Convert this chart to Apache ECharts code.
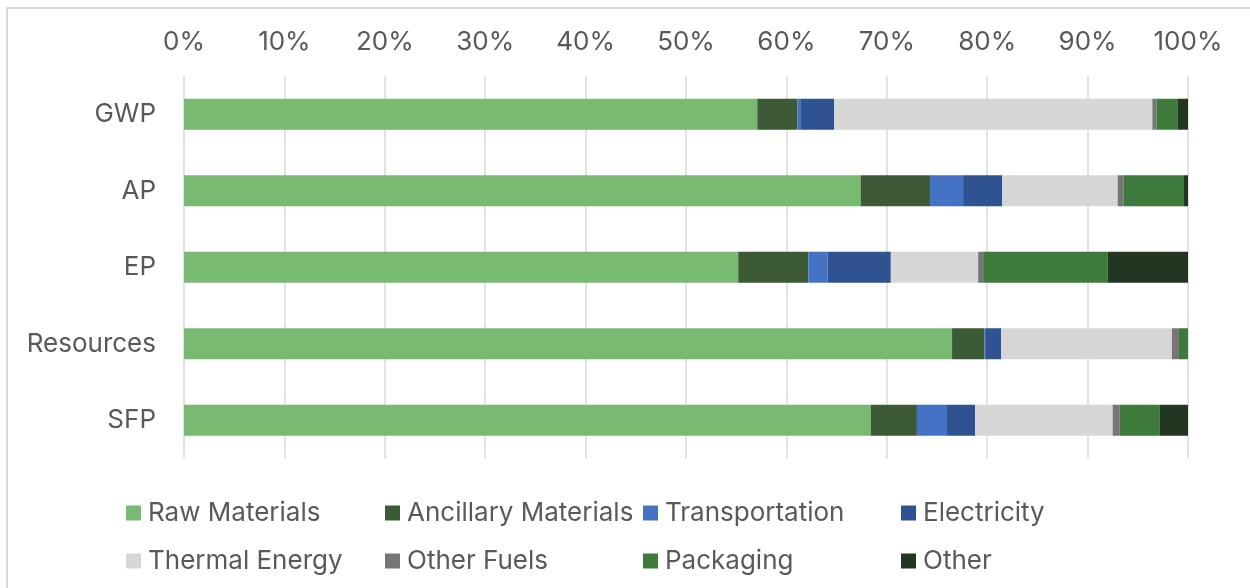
<!DOCTYPE html>
<html><head><meta charset="utf-8">
<script src="https://cdn.jsdelivr.net/npm/echarts@6/dist/echarts.min.js"></script>
<style>html,body{margin:0;padding:0;background:#fff}#c{width:1250px;height:588px}</style>
</head><body><div id="c"></div>
<script>
const categories = ["GWP", "AP", "EP", "Resources", "SFP"];
const seriesNames = ["Raw Materials", "Ancillary Materials", "Transportation", "Electricity", "Thermal Energy", "Other Fuels", "Packaging", "Other"];
const rawMaterials = [57.1, 67.4, 55.2, 76.5, 68.4];
const ancillaryMaterials = [4.0, 6.9, 7.0, 3.2, 4.6];
const transportation = [0.35, 3.3, 1.9, 0.1, 3.0];
const electricity = [3.3, 3.9, 6.3, 1.6, 2.8];
const thermalEnergy = [31.7, 11.5, 8.7, 17.0, 13.7];
const otherFuels = [0.4, 0.6, 0.5, 0.7, 0.7];
const packaging = [2.1, 6.0, 12.4, 0.9, 4.0];
const other = [1.05, 0.4, 8.0, 0.0, 2.8];
const tickLabels = ["0%", "10%", "20%", "30%", "40%", "50%", "60%", "70%", "80%", "90%", "100%"];
const colors = ["#78BA72", "#3C5A36", "#4472C4", "#2F5290", "#D6D6D6", "#767676", "#3E7A3C", "#233622"];

const values = [rawMaterials, ancillaryMaterials, transportation, electricity, thermalEnergy, otherFuels, packaging, other];
const FONT = "Inter";
const FS = 26;
const legendPos = [[126, 500], [385, 500], [643, 500], [901, 500], [126, 548], [385, 548], [643, 548], [901, 548]];

const chart = echarts.init(document.getElementById('c'), null, {renderer: 'canvas'});
chart.setOption({
  animation: false,
  color: colors,
  graphic: [{type: 'rect', shape: {x: 7, y: 8, width: 1300, height: 700}, style: {fill: 'none', stroke: '#D9D9D9', lineWidth: 2}, silent: true}],
  grid: {left: 184, right: 62, top: 76, bottom: 129.5, containLabel: false},
  xAxis: {
    type: 'value', position: 'top', min: 0, max: 100, interval: 10,
    axisLine: {show: false}, axisTick: {show: false},
    splitLine: {show: true, lineStyle: {color: '#D9D9D9', width: 1.5}},
    axisLabel: {margin: 21, color: '#595959', fontFamily: FONT, fontSize: FS,
      formatter: function (v) { return tickLabels[Math.round(v / 10)]; }}
  },
  yAxis: {
    type: 'category', data: categories, inverse: true,
    axisLine: {show: false}, axisTick: {show: false}, splitLine: {show: false},
    axisLabel: {margin: 28, color: '#595959', fontFamily: FONT, fontSize: FS}
  },
  legend: seriesNames.map((n, i) => ({
    data: [n], left: legendPos[i][0], top: legendPos[i][1], padding: 0,
    itemWidth: 15, itemHeight: 15, icon: 'rect', selectedMode: false,
    textStyle: {color: '#595959', fontFamily: FONT, fontSize: FS, lineHeight: 26, padding: [0, 0, 0, 2]}
  })),
  series: seriesNames.map((n, i) => ({
    name: n, type: 'bar', stack: 'total', data: values[i], barWidth: 31,
    itemStyle: {color: colors[i]}
  }))
});
</script></body></html>
